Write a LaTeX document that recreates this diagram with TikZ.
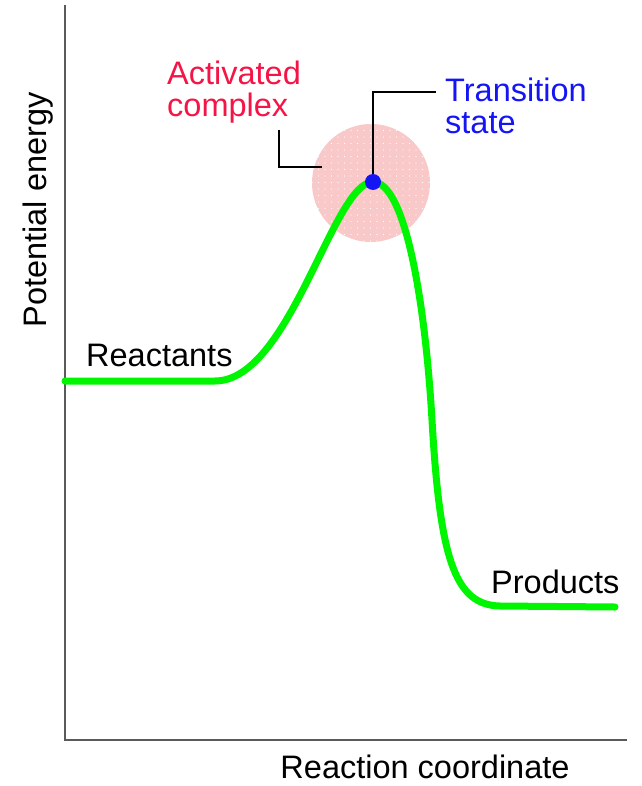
\documentclass[tikz,border=0pt]{standalone}
\usepackage{fontspec}
\setmainfont{Liberation Sans}
\definecolor{curvegreen}{RGB}{0,245,0}
\definecolor{pinkfill}{RGB}{249,200,200}
\definecolor{actred}{RGB}{245,20,70}
\definecolor{tsblue}{RGB}{20,20,245}
\definecolor{axisgray}{RGB}{90,90,90}
\tikzset{
  lbl/.style={inner sep=0pt, font=\fontsize{32.5}{32}\selectfont, align=left},
  axisline/.style={draw=axisgray, line width=2pt},
  leader/.style={draw=black, line width=1.6pt},
  energy/.style={draw=curvegreen, line width=7pt, line cap=round, line join=round}
}
\begin{document}
\begin{tikzpicture}[x=1pt,y=-1pt]
\useasboundingbox (0,0) rectangle (641,786);
% activated complex circle
\node[circle, fill=pinkfill, minimum size=118pt, inner sep=0pt] (halo) at (371,183) {};
\begin{scope}
  \clip (371,183) circle (59);
  \foreach \i in {0,...,18} {
    \foreach \j in {0,...,18} {
      \fill[white] (312+\i*6.5, 124+\j*6.5) circle (0.7);
    }
  }
\end{scope}
% axes
\coordinate (top) at (65,5);
\coordinate (origin) at (65,740);
\coordinate (right) at (627,740);
\draw[axisline] (top) -- (origin) -- (right);
% energy curve
\coordinate (r0) at (65,381);
\coordinate (r1) at (215,381);
\coordinate (ts) at (373,182);
\coordinate (mid) at (432,420);
\coordinate (p0) at (500,606);
\coordinate (p1) at (615,607);
\draw[energy] (r0) -- (r1) .. controls (290,381) and (333,182) .. (ts)
  .. controls (405,182) and (425,300) .. (mid)
  .. controls (440,560) and (455,605) .. (p0) -- (p1);
% leaders
\coordinate (tsk) at (373,92);
\coordinate (tse) at (436,92);
\draw[leader] (ts) -- (tsk) -- (tse);
\coordinate (ac0) at (279,130);
\coordinate (ac1) at (279,167);
\coordinate (ac2) at (322,167);
\draw[leader] (ac0) -- (ac1) -- (ac2);
% transition state dot
\node[circle, fill=tsblue, minimum size=16pt, inner sep=0pt] (tsdot) at (ts) {};
% labels
\node[lbl, text=actred, anchor=west] (actlbl) at (167,92) {Activated\\complex};
\node[lbl, text=tsblue, anchor=west] (tslbl) at (445,106) {Transition\\state};
\node[lbl, anchor=west] (reac) at (86,355) {Reactants};
\node[lbl, anchor=west] (prod) at (491,582) {Products};
\node[lbl, rotate=90] (ylab) at (38,210) {Potential energy};
\node[lbl] (xlab) at (425,767) {Reaction coordinate};
\end{tikzpicture}
\end{document}
